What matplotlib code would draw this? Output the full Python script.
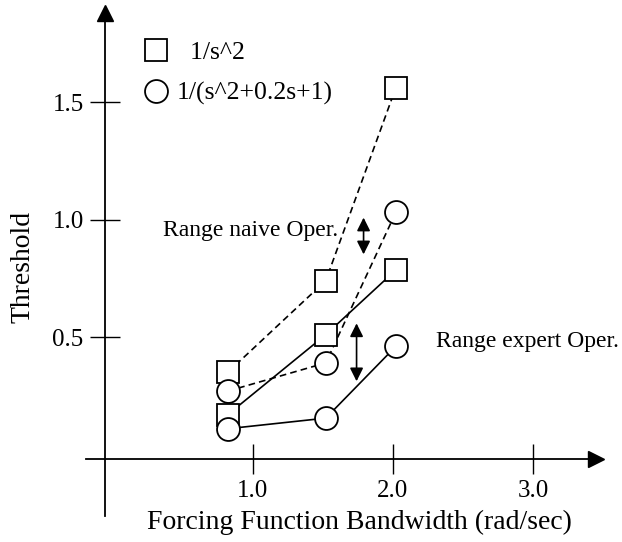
import numpy as np
import matplotlib.pyplot as plt
from matplotlib.lines import Line2D

plt.rcParams["font.family"] = ["Liberation Serif", "DejaVu Serif"]

# forcing function bandwidth (rad/sec)
bandwidth = [0.82, 1.52, 2.02]

# threshold values, upper pair = naive operators, lower pair = expert operators
naive_s2 = [0.35, 0.74, 1.56]
naive_osc = [0.27, 0.39, 1.03]
expert_s2 = [0.17, 0.51, 0.785]
expert_osc = [0.11, 0.155, 0.46]

xticks = [1.0, 2.0, 3.0]
yticks = [0.5, 1.0, 1.5]

fig = plt.figure(figsize=(6.22, 5.42), dpi=100)
ax = fig.add_axes([0, 0, 1, 1])
ax.set_xlim(-0.807, 3.636)
ax.set_ylim(-0.372, 1.934)

mk = dict(color="black", markerfacecolor="white", markeredgecolor="black",
          markeredgewidth=1.3, markersize=16.5, lw=1.2)
ax.plot(bandwidth, naive_s2, ls=(0, (4, 2.5)), marker="s", **mk)
ax.plot(bandwidth, naive_osc, ls=(0, (4, 2.5)), marker="o", **mk)
ax.plot(bandwidth, expert_s2, ls="-", marker="s", **mk)
ax.plot(bandwidth, expert_osc, ls="-", marker="o", **mk)

# axes drawn as crossing lines with arrow heads
for side in ["top", "right"]:
    ax.spines[side].set_visible(False)
ax.spines["left"].set_position(("data", -0.06))
ax.spines["bottom"].set_position(("data", -0.02))
ax.spines["left"].set_bounds(-0.26, 1.86)
ax.spines["bottom"].set_bounds(-0.19, 3.42)
ax.spines["left"].set_linewidth(1.3)
ax.spines["bottom"].set_linewidth(1.3)
ax.plot(-0.06, 1.88, "^k", markersize=11, clip_on=False)
ax.plot(3.45, -0.02, ">k", markersize=11, clip_on=False)

ax.set_xticks(xticks)
ax.set_xticklabels([f"{t:.1f}" for t in xticks])
ax.set_yticks(yticks)
ax.set_yticklabels([f"{t:.1f}" for t in yticks])
ax.tick_params(axis="both", direction="inout", length=22, width=1.0,
               labelsize=18, pad=4)

ax.text(1.76, -0.29, "Forcing Function Bandwidth (rad/sec)", fontsize=20,
        ha="center", va="center")
ax.text(-0.64, 0.80, "Threshold", fontsize=20, rotation=90,
        ha="center", va="center")

# ranges between the two operator groups
arrow = dict(arrowstyle="<|-|>", color="black", lw=1.2, mutation_scale=20)
ax.annotate("", xy=(1.79, 1.02), xytext=(1.79, 0.84), arrowprops=arrow)
ax.annotate("", xy=(1.74, 0.57), xytext=(1.74, 0.30), arrowprops=arrow)
ax.text(0.98, 0.955, "Range naive Oper.", fontsize=17, ha="center", va="center")
ax.text(2.96, 0.48, "Range expert Oper.", fontsize=17, ha="center", va="center")

handles = [
    Line2D([], [], ls="none", marker="s", markersize=16.5, markerfacecolor="white",
           markeredgecolor="black", markeredgewidth=1.3),
    Line2D([], [], ls="none", marker="o", markersize=16.5, markerfacecolor="white",
           markeredgecolor="black", markeredgewidth=1.3),
]
ax.legend(handles, ["  1/s^2", "1/(s^2+0.2s+1)"], loc="upper left",
          bbox_to_anchor=(0.208, 0.948), frameon=False, fontsize=18.5,
          handletextpad=0.25, labelspacing=0.7, borderpad=0, handlelength=1.1)

fig.savefig("out.png", dpi=100)
